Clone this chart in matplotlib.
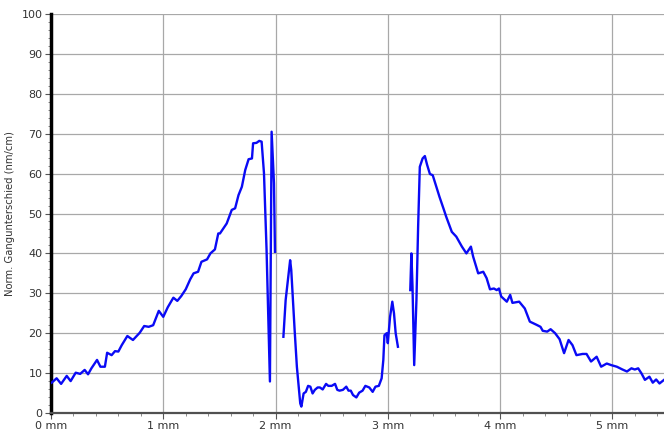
import numpy as np
import matplotlib
matplotlib.use("Agg")
import matplotlib.pyplot as plt
from matplotlib.ticker import MultipleLocator, FuncFormatter

# Messkurve, in Abschnitten (Lücken zwischen den Abschnitten)
x_teil1 = [0.006, 0.05, 0.09, 0.14, 0.175, 0.22, 0.26, 0.30, 0.33, 0.36, 0.41, 0.44, 0.48,
           0.50, 0.54, 0.57, 0.60, 0.63, 0.68, 0.73, 0.79, 0.83, 0.87, 0.91, 0.96, 1.00,
           1.04, 1.09, 1.125, 1.16, 1.20, 1.24, 1.27, 1.31, 1.34, 1.39, 1.42, 1.46, 1.49,
           1.505, 1.565, 1.61, 1.64, 1.67, 1.70, 1.73, 1.76, 1.79, 1.80, 1.83, 1.855,
           1.876, 1.897, 1.92, 1.95, 1.965, 1.986, 1.995]
y_teil1 = [7.6, 8.7, 7.3, 9.3, 8.0, 10.1, 9.8, 10.8, 9.7, 11.2, 13.3, 11.6, 11.6,
           15.1, 14.5, 15.5, 15.4, 17.0, 19.3, 18.3, 20.1, 21.8, 21.6, 22.0, 25.6, 24.1,
           26.5, 28.9, 28.1, 29.3, 31.0, 33.5, 35.0, 35.4, 37.9, 38.5, 40.0, 41.0, 45.0,
           45.0, 47.5, 50.9, 51.3, 54.6, 56.7, 60.9, 63.6, 63.8, 67.6, 67.7, 68.2,
           68.0, 60.1, 40.9, 7.9, 70.5, 57.6, 40.4]

x_teil2 = [2.07, 2.09, 2.11, 2.13, 2.14, 2.17, 2.19, 2.22, 2.23, 2.25, 2.27, 2.29, 2.31,
           2.33, 2.35, 2.375, 2.395, 2.42, 2.45, 2.47, 2.50, 2.53, 2.55, 2.57, 2.60, 2.63,
           2.65, 2.67, 2.69, 2.72, 2.745, 2.775, 2.80, 2.835, 2.865, 2.89, 2.92, 2.945,
           2.96, 2.97, 2.99, 3.00, 3.02, 3.04, 3.055, 3.07, 3.09]
y_teil2 = [19.1, 28.3, 33.3, 38.3, 35.8, 20.8, 11.6, 2.4, 1.6, 4.9, 5.3, 6.8, 6.6,
           4.9, 5.8, 6.4, 6.4, 5.9, 7.3, 6.8, 6.8, 7.3, 5.8, 5.6, 5.8, 6.6,
           5.6, 5.6, 4.5, 3.9, 5.1, 5.6, 6.8, 6.4, 5.3, 6.6, 6.8, 8.7,
           13.3, 19.5, 20.0, 17.5, 24.1, 27.9, 25.0, 20.0, 16.6]

x_teil3 = [3.20, 3.21, 3.22, 3.235, 3.255, 3.27, 3.285, 3.31, 3.33, 3.35, 3.375, 3.40,
           3.46, 3.50, 3.52, 3.57, 3.61, 3.66, 3.70, 3.74, 3.76, 3.805, 3.85, 3.88, 3.91,
           3.945, 3.97, 3.99, 4.01, 4.06, 4.09, 4.11, 4.17, 4.22, 4.265, 4.325, 4.36,
           4.38, 4.42, 4.45, 4.49, 4.53, 4.57, 4.61, 4.645, 4.68, 4.735, 4.77, 4.81,
           4.86, 4.90, 4.95, 4.99, 5.04, 5.09, 5.13, 5.17, 5.20, 5.23, 5.26, 5.29, 5.33,
           5.36, 5.39, 5.42, 5.46]
y_teil3 = [30.8, 40.0, 31.7, 12.0, 28.3, 46.7, 61.7, 63.8, 64.4, 62.2, 59.9, 59.6,
           54.2, 50.9, 49.2, 45.4, 44.2, 41.7, 40.0, 41.7, 39.2, 35.0, 35.4, 33.8, 31.0,
           31.2, 30.8, 31.2, 29.2, 27.9, 29.6, 27.6, 27.9, 26.2, 22.9, 22.1, 21.6,
           20.6, 20.4, 21.0, 20.0, 18.5, 15.0, 18.3, 17.0, 14.5, 14.8, 14.8, 12.9,
           14.1, 11.6, 12.4, 12.0, 11.6, 10.9, 10.4, 11.2, 10.9, 11.2, 9.9, 8.3, 9.1,
           7.6, 8.4, 7.4, 8.3]

abschnitte = [(x_teil1, y_teil1), (x_teil2, y_teil2), (x_teil3, y_teil3)]

fig = plt.figure(figsize=(6.64, 4.34), dpi=100)
ax = fig.add_axes([51 / 664, 21 / 434, 613 / 664, 399 / 434])

for xs, ys in abschnitte:
    ax.plot(xs, ys, color="#0a0af5", linewidth=1.7, zorder=3)

ax.set_xlim(0, 5.46)
ax.set_ylim(0, 100)

ax.xaxis.set_major_locator(MultipleLocator(1))
ax.xaxis.set_minor_locator(MultipleLocator(0.2))
ax.yaxis.set_major_locator(MultipleLocator(10))
ax.yaxis.set_minor_locator(MultipleLocator(2))
ax.xaxis.set_major_formatter(FuncFormatter(lambda v, p: f"{v:.0f} mm"))

ax.grid(True, which="major", color="#a8a8a8", linewidth=0.9, zorder=0)
# keine Gitterlinie am oberen Rand
ax.get_ygridlines()[-1].set_visible(False)

for s in ["top", "right"]:
    ax.spines[s].set_visible(False)
ax.spines["left"].set_linewidth(2.5)
ax.spines["left"].set_color("black")
ax.spines["bottom"].set_linewidth(1.6)
ax.spines["bottom"].set_color("#505050")

ax.tick_params(axis="both", which="major", length=4, width=0.8, color="#555555",
               labelsize=8, labelcolor="#333333", pad=2)
ax.tick_params(axis="both", which="minor", length=2.5, width=0.6, color="#777777")

ax.set_ylabel("Norm. Gangunterschied (nm/cm)", fontsize=7.2, color="#333333")
ax.yaxis.set_label_coords(-36 / 613, 0.5)

fig.savefig("out.png", dpi=100)
